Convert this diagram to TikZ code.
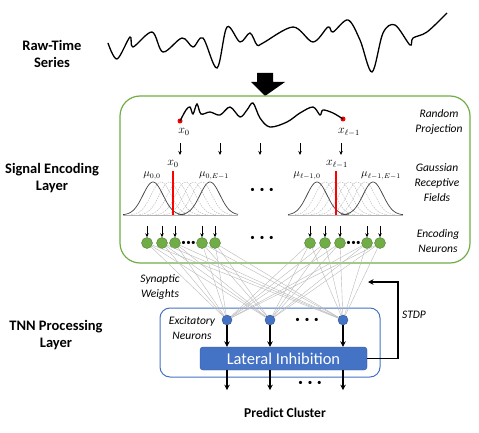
\documentclass[tikz,border=0pt]{standalone}
\usepackage{fontspec}
\setmainfont{Carlito}
\usetikzlibrary{arrows.meta}
\definecolor{encgreen}{HTML}{70AD47}
\definecolor{tnnblue}{HTML}{4472C4}
\tikzset{
  layer/.style={font=\fontsize{14.5}{17}\selectfont\bfseries,align=center},
  note/.style={font=\fontsize{11.5}{15}\selectfont\itshape,align=center,text=black},
  sym/.style={font=\fontsize{12}{14}\selectfont,inner sep=0pt},
  musym/.style={font=\fontsize{10.5}{12}\selectfont,inner sep=0pt},
  dots/.style={font=\fontsize{9}{11}\selectfont,inner sep=0pt},
  enc/.style={circle,draw=encgreen!75!black,fill=encgreen,inner sep=0pt,minimum size=11pt},
  exc/.style={circle,draw=tnnblue!75!black,fill=tnnblue,inner sep=0pt,minimum size=10pt},
  pdot/.style={circle,fill=red,inner sep=0pt,minimum size=5pt},
  syn/.style={gray!55,line width=0.4pt},
  tick/.style={-{Stealth[length=4pt,width=3.5pt]},line width=0.7pt},
  flow/.style={-{Stealth[length=5.5pt,width=5.5pt]},line width=1.5pt},
  gauss/.style={black!75,line width=0.7pt},
  gaussd/.style={gray!60,dash pattern=on 1.5pt off 1pt,line width=0.4pt},
}
\begin{document}
\begin{tikzpicture}[x=1pt,y=-1pt]
\useasboundingbox (0,0) rectangle (479,433);
%Labels
\node[layer] (raw) at (52,54) {Raw-Time\\Series};
\node[layer] (sel) at (52,178) {Signal Encoding\\Layer};
\node[layer] (tpl) at (56,335) {TNN Processing\\Layer};
\node[layer,font=\fontsize{13.5}{16}\selectfont\bfseries] (pred) at (285,413) {Predict Cluster};
%Raw series
\draw[line width=1.3pt] plot[smooth,tension=0.55] coordinates {(108,43) (117,59) (130,37) (133,47) (152,32) (163,52) (182,38) (193,47) (203,38) (217,68) (227,27) (240,42) (250,33) (257,45) (263,43) (293,27) (313,42) (328,27) (333,32) (348,20) (360,40) (372,72) (383,33) (395,25) (410,45) (413,38) (427,32) (447,13)};
\fill (257,73) -- (273,73) -- (273,82) -- (285,82) -- (265,96) -- (251,82) -- (257,82) -- cycle;
%Encoding layer
\node[draw=encgreen,line width=1.2pt,rounded corners=20pt,minimum width=350pt,minimum height=167pt] (encbox) at (295,179.5) {};
\node[pdot] (p0) at (180,121) {};
\node[pdot] (p1) at (343,119) {};
\draw[line width=1.3pt] plot[smooth,tension=0.55] coordinates {(p0) (186,110) (190,107) (193,114) (197,104) (201,114) (210,112) (220,115) (230,107) (240,117) (247,110) (253,103) (260,118) (270,127) (287,122) (300,113) (313,107) (320,115) (323,110) (333,113) (p1)};
\node[sym] (lx0) at (184,132) {$x_0$};
\node[sym] (lx1) at (349,132) {$x_{\ell-1}$};
\foreach \x in {180,220,260,300,341}
  \draw[tick] (\x,143) -- (\x,155);
\node[note] (rp) at (439,122) {Random\\Projection};
% Gaussians
\foreach \m in {161.1,169.3,177.4,185.6,193.7,201.9}
  \draw[gaussd] plot[domain=\m-30:\m+30,samples=40] (\x,{215-33*exp(-((\x-\m)*(\x-\m))/200)});
\foreach \m in {325,333,341,349,357,365}
  \draw[gaussd] plot[domain=\m-30:\m+30,samples=40] (\x,{215-33*exp(-((\x-\m)*(\x-\m))/200)});
\foreach \m/\a/\b in {153/123/185,210/178/238,317/288/349,373/341/403}
  \draw[gauss] plot[domain=\a:\b,samples=50] (\x,{215-33*exp(-((\x-\m)*(\x-\m))/200)});
\draw[gray!60,line width=0.6pt] (123,215) -- (238,215);
\draw[gray!60,line width=0.6pt] (288,215) -- (403,215);
\draw[red,line width=1.2pt] (173,171) -- (173,215);
\draw[red,line width=1.2pt] (336,171) -- (336,215);
\node[sym] (gx0) at (173,164) {$x_0$};
\node[sym] (gx1) at (337,164) {$x_{\ell-1}$};
\node[musym] (m00) at (152,176) {$\mu_{0,0}$};
\node[musym] (m0e) at (214,176) {$\mu_{0,E-1}$};
\node[musym] (m10) at (307,176) {$\mu_{\ell-1,0}$};
\node[musym] (m1e) at (381,176) {$\mu_{\ell-1,E-1}$};
\node[dots] (gd) at (262,190) {\textbullet\hspace{5pt}\textbullet\hspace{5pt}\textbullet};
\node[note] (grf) at (437,183) {Gaussian\\Receptive\\Fields};
% Vertices
\foreach \i/\x in {1/147,2/162,3/175,4/202,5/215,6/310,7/325,8/340,9/367,10/380}
  \node[enc] (e\i) at (\x,243) {};
\foreach \i in {1,...,10}
  \draw[tick] ([yshift=11pt]e\i.north) -- (e\i.north);
\node[dots] (ed1) at (188.5,243) {\textbullet\hspace{0.5pt}\textbullet\hspace{0.5pt}\textbullet};
\node[dots] (ed2) at (353.5,243) {\textbullet\hspace{0.5pt}\textbullet\hspace{0.5pt}\textbullet};
\node[dots] (ed) at (262,238) {\textbullet\hspace{5pt}\textbullet\hspace{5pt}\textbullet};
\node[note] (en) at (438,241) {Encoding\\Neurons};
%TNN layer
\node[draw=tnnblue,line width=1pt,rounded corners=10pt,minimum width=220pt,minimum height=69pt] (tnnbox) at (270,342.5) {};
\node[exc] (n1) at (227,320) {};
\node[exc] (n2) at (270,320) {};
\node[exc] (n3) at (343,320) {};
\node[dots] (nd) at (307,320) {\textbullet\hspace{5pt}\textbullet\hspace{5pt}\textbullet};
\node[fill=tnnblue,draw=tnnblue!75!black,rounded corners=3pt,minimum width=167pt,minimum height=23pt,text=white,font=\fontsize{16.5}{18}\selectfont] (lat) at (283.5,358.5) {Lateral Inhibition};
%Synapses
\foreach \i in {1,...,10}
  \foreach \j in {1,2,3}
    \draw[syn] (e\i) -- (n\j);
\node[note] (sw) at (160,287) {Synaptic\\Weights};
\node[note] (ex) at (192,328) {Excitatory\\Neurons};
%Outputs
\foreach \j in {1,2,3} {
  \coordinate (o\j) at ([yshift=-20pt]n\j |- lat.south);
  \draw[flow] (n\j) -- (n\j |- lat.north);
  \draw[flow] (n\j |- lat.south) -- (o\j);
}
\node[dots] (od) at (310,383) {\textbullet\hspace{5pt}\textbullet\hspace{5pt}\textbullet};
\coordinate (stdpc) at (398,282);
\coordinate (stdp) at (368,282);
\draw[flow] (lat.east) -| (stdpc) -- (stdp);
\node[note] (st) at (414,315) {STDP};
\end{tikzpicture}
\end{document}
